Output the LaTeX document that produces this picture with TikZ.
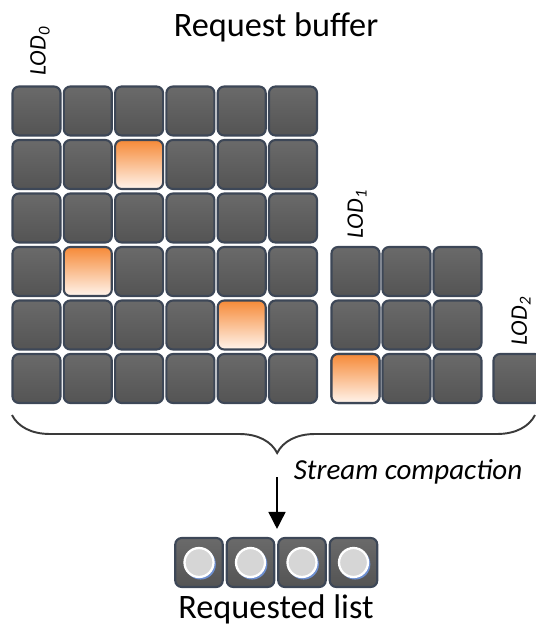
\documentclass[tikz,border=0pt]{standalone}
\usepackage{fontspec}
\setmainfont{Carlito}
\usepackage{xcolor}
\definecolor{tileTop}{HTML}{6A6A6A}
\definecolor{tileBottom}{HTML}{545454}
\definecolor{tileEdge}{HTML}{3D4757}
\definecolor{hotTop}{HTML}{F68A38}
\definecolor{hotBottom}{HTML}{FFF4EC}
\definecolor{ringGray}{HTML}{D6D6D6}
\definecolor{ringBlue}{HTML}{6D8FD0}
\definecolor{braceGray}{HTML}{3A3A3A}
\usepackage{tikz}
\usetikzlibrary{arrows.meta, positioning, calc, decorations.pathreplacing}

\tikzset{
    tile/.style={draw=tileEdge, line width=1.2pt, rounded corners=0.13cm,
        top color=tileTop, bottom color=tileBottom,
        minimum width=0.96cm, minimum height=0.98cm, inner sep=0pt},
    hot/.style={top color=hotTop, bottom color=hotBottom},
    % celdas solicitadas (fila-columna)
    hot23/.style={hot}, hot42/.style={hot}, hot55/.style={hot},
    lodlabel/.style={rotate=90, font=\fontsize{13.5}{15}\selectfont\itshape},
}

\begin{document}
\begin{tikzpicture}[x=0.02cm, y=-0.02cm]
    \useasboundingbox (0,0) rectangle (536,628);

    % Titulo
    \node[anchor=base, font=\fontsize{19.5}{22}\selectfont] (title) at (276,37) {Request buffer};

    % LOD 0 (6x6)
    \foreach \r in {1,...,6}{
        \foreach \c in {1,...,6}{
            \node[tile, hot\r\c/.try] (a\r\c) at ({-14.8+51.3*\c},{57.5+53.5*\r}) {};
        }
    }
    \node[lodlabel] (lod0) at (40,51) {LOD\textsubscript{0}};

    % LOD 1 (3x3)
    \foreach \r in {1,...,3}{
        \foreach \c in {1,...,3}{
            \node[tile] (b\r\c) at ({304.5+51*\c},{218+53.5*\r}) {};
        }
    }
    \node[tile, hot] (b31) at (355.5,378.5) {};
    \node[lodlabel] (lod1) at (357,214) {LOD\textsubscript{1}};

    % LOD 2 (1x1)
    \node[tile] (c11) at (517.5,378.5) {};
    \node[lodlabel] (lod2) at (521,321) {LOD\textsubscript{2}};

    % Llave de compactacion
    \coordinate (braceL) at (12,415);
    \coordinate (braceR) at (535,415);
    \draw[braceGray, line width=1.1pt, decorate,
        decoration={brace, mirror, amplitude=0.76cm, aspect=0.507}] (braceL) -- (braceR);
    \node[anchor=base, font=\fontsize{16.5}{19}\selectfont\itshape] (compact) at (408,479) {Stream compaction};

    % Lista resultante
    \foreach \c in {1,...,4}{
        \node[tile, minimum width=0.95cm] (r\c) at ({147.5+51.5*\c},562.5) {};
        \fill[ringBlue] ($(r\c)+(1.6,1.8)$) circle (0.305cm);
        \draw[white, fill=ringGray, line width=1.3pt] (r\c) circle (0.29cm);
    }
    \node[anchor=base, font=\fontsize{19.5}{22}\selectfont] (reqlist) at (276,618) {Requested list};

    % Flecha
    \coordinate (arrowTop) at (277,477);
    \draw[black, line width=0.9pt, -{Triangle[width=0.34cm, length=0.34cm]},
        shorten >=0.16cm] (arrowTop) -- (arrowTop |- r2.north);
\end{tikzpicture}
\end{document}
